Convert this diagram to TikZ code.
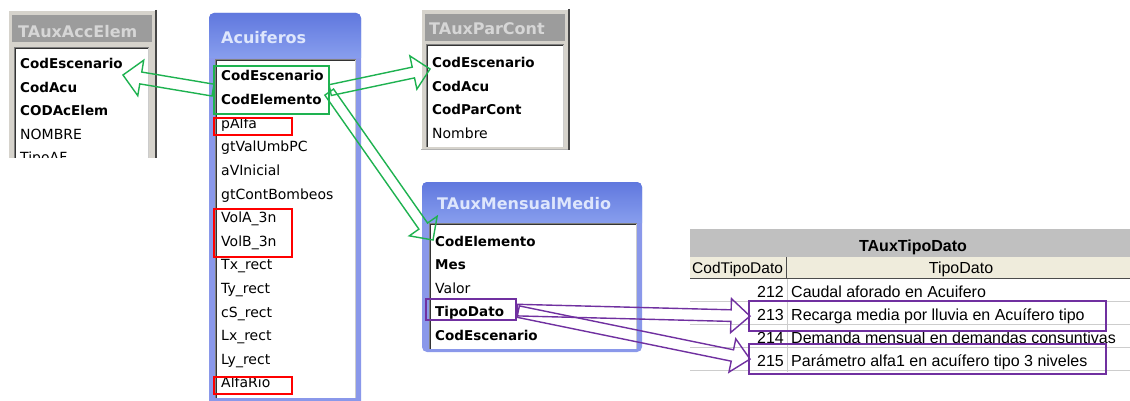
\documentclass[tikz,border=0pt]{standalone}
\usepackage{fontspec}
\usetikzlibrary{calc}
\newfontfamily\accfont{DejaVu Sans}
\newfontfamily\xlfont{Liberation Sans}

\definecolor{winface}{RGB}{214,211,204}
\definecolor{winshadow}{RGB}{70,70,70}
\definecolor{wincaption}{RGB}{156,156,156}
\definecolor{wincaptiontext}{RGB}{214,214,214}
\definecolor{insetgray}{RGB}{128,128,128}
\definecolor{xpbluetop}{RGB}{96,120,222}
\definecolor{xpbluebottom}{RGB}{136,158,238}
\definecolor{xpblueside}{RGB}{138,152,234}
\definecolor{xptitletext}{RGB}{222,230,252}
\definecolor{linkgreen}{RGB}{30,178,80}
\definecolor{linkpurple}{RGB}{112,48,160}
\definecolor{markred}{RGB}{255,0,0}
\definecolor{headgray}{RGB}{192,192,192}
\definecolor{headcream}{RGB}{239,236,220}
\definecolor{gridgray}{RGB}{205,205,205}

% hollow block arrow: style, start, tip, shaft half width, head half width, head length
\newcommand\blockarrow[6]{%
  \coordinate (ba-base) at ($(#3)!#6!(#2)$);
  \draw[#1] ($(#2)!#4!90:(#3)$) -- ($(ba-base)!#4!-90:(#2)$) -- ($(ba-base)!#5!-90:(#2)$)
    -- (#3) -- ($(ba-base)!#5!90:(#2)$) -- ($(ba-base)!#4!90:(#2)$) -- ($(#2)!#4!-90:(#3)$) -- cycle;
}
% sunken white list area with a dark bevel on the top and left
\newcommand\listarea[4]{%
  \fill[white] (#1,#2) rectangle (#3,#4);
  \draw[insetgray,line width=1pt] (#1+0.5,#4) -- (#1+0.5,#2+0.5) -- (#3,#2+0.5);
  \draw[black!80,line width=1pt] (#1+1.5,#4) -- (#1+1.5,#2+1.5) -- (#3-1,#2+1.5);
  \draw[gray!40,line width=1pt] (#3-0.5,#2+1) -- (#3-0.5,#4);
}
% classic grey window frame with its caption bar
\newcommand\classicwin[4]{%
  \fill[winface] (#1,#2) rectangle (#3,#4);
  \draw[white,line width=1pt] (#1+0.5,#4) -- (#1+0.5,#2+0.5) -- (#3-2,#2+0.5);
  \draw[gray!60,line width=1pt] (#1,#4-0.5) -- (#3,#4-0.5);
  \draw[winshadow,line width=2pt] (#3-1,#2) -- (#3-1,#4);
  \fill[wincaption] (#1+4,#2+5) rectangle (#3-5,#2+32);
}
% blue window frame with its shaded caption
\newcommand\bluewin[5]{% x1,y1,x2,y2,caption bottom
  \fill[xpblueside,rounded corners=5pt] (#1,#2) rectangle (#3,#4);
  \shade[top color=xpbluetop,bottom color=xpbluebottom] (#1,#5) {[rounded corners=5pt] -- (#1,#2) -- (#3,#2)} -- (#3,#5) -- cycle;
}

\begin{document}
\begin{tikzpicture}[x=1pt,y=-1pt,line join=miter,
  field/.style={anchor=base west,inner sep=0pt,text=black,font=\accfont\fontsize{14}{16}\selectfont},
  keyfield/.style={field,font=\accfont\bfseries\fontsize{13.5}{16}\selectfont},
  graytitle/.style={anchor=base west,inner sep=0pt,text=wincaptiontext,font=\accfont\bfseries\fontsize{16}{19}\selectfont},
  bluetitle/.style={graytitle,text=xptitletext},
  cell/.style={inner sep=0pt,font=\xlfont\fontsize{16}{19}\selectfont},
  numcell/.style={cell,anchor=base east},
  textcell/.style={cell,anchor=base west},
  hlbox/.style={draw,line width=2.2pt,anchor=north west,inner sep=0pt},
  greenlink/.style={draw=linkgreen,line width=1.4pt},
  purplelink/.style={draw=linkpurple,line width=1.4pt}]

\fill[white] (0,0) rectangle (1130,401);
\useasboundingbox (0,0) rectangle (1130,401);

% ---------- TAuxAccElem ----------
\begin{scope}
  \clip (0,0) rectangle (200,158);
  \classicwin{8}{10}{157}{180}
  \node[graytitle] (accTitle) at (18,38) {TAuxAccElem};
  \listarea{14}{47}{149}{180}
  \node[keyfield] (accEsc) at (20,69) {CodEscenario};
  \node[keyfield] (accAcu) at (20,92.5) {CodAcu};
  \node[keyfield] (accElem) at (20,116) {CODAcElem};
  \node[field] (accNombre) at (20,139.5) {NOMBRE};
  \node[field] (accTipo) at (20,163) {TipoAF};
\end{scope}

% ---------- Acuiferos ----------
\bluewin{209}{13}{361}{410}{58}
\node[bluetitle] (acuTitle) at (221,44) {Acuiferos};
\listarea{215}{59}{356}{398}
\node[keyfield] (acuEsc) at (221,81) {CodEscenario};
\node[keyfield] (acuElem) at (221,104.6) {CodElemento};
\node[field] (acuAlfa) at (221,128.2) {pAlfa};
\node[field] (acuUmb) at (221,151.8) {gtValUmbPC};
\node[field] (acuVIni) at (221,175.4) {aVInicial};
\node[field] (acuBomb) at (221,199) {gtContBombeos};
\node[field] (acuVolA) at (221,222.6) {VolA\_3n};
\node[field] (acuVolB) at (221,246.2) {VolB\_3n};
\node[field] (acuTx) at (221,269.8) {Tx\_rect};
\node[field] (acuTy) at (221,293.4) {Ty\_rect};
\node[field] (acuCs) at (221,317) {cS\_rect};
\node[field] (acuLx) at (221,340.6) {Lx\_rect};
\node[field] (acuLy) at (221,364.2) {Ly\_rect};
\node[field] (acuRio) at (221,387.8) {AlfaRio};

% ---------- TAuxParCont ----------
\classicwin{421}{9}{570}{150}
\node[graytitle] (parTitle) at (429,35) {TAuxParCont};
\listarea{426}{44}{564}{147}
\node[keyfield] (parEsc) at (432,68) {CodEscenario};
\node[keyfield] (parAcu) at (432,91.5) {CodAcu};
\node[keyfield] (parCod) at (432,115) {CodParCont};
\node[field] (parNombre) at (432,138.5) {Nombre};

% ---------- TAuxMensualMedio ----------
\bluewin{422}{182}{642}{352}{223}
\node[bluetitle] (mmTitle) at (437,209) {TAuxMensualMedio};
\listarea{429}{223}{637}{349}
\node[keyfield] (mmElem) at (435,246) {CodElemento};
\node[keyfield] (mmMes) at (435,269.6) {Mes};
\node[field] (mmValor) at (435,293.2) {Valor};
\node[keyfield] (mmTipo) at (435,316.8) {TipoDato};
\node[keyfield] (mmEsc) at (435,340.4) {CodEscenario};

% ---------- TAuxTipoDato sheet ----------
\fill[headgray] (690,229) rectangle (1130,257);
\fill[headcream] (690,257) rectangle (1130,278);
\draw[black!70,line width=1pt] (690,278.5) -- (1130,278.5);
\draw[black!70,line width=1pt] (786.5,257) -- (786.5,278);
\foreach \yy in {301,324,347,370}
  \draw[gridgray,line width=1pt] (690,\yy) -- (1130,\yy);
\draw[gridgray,line width=1pt] (787,279) -- (787,372);
\node[cell,anchor=base,font=\xlfont\bfseries\fontsize{16}{19}\selectfont] (tdTitle) at (913,251) {TAuxTipoDato};
\node[textcell,font=\xlfont\fontsize{15.5}{19}\selectfont] (tdHeadCod) at (692,273) {CodTipoDato};
\node[cell,anchor=base] (tdHeadTipo) at (961,273) {TipoDato};
\node[numcell] (n212) at (784,297) {212};
\node[textcell] (t212) at (791,297) {Caudal aforado en Acuifero};
\node[numcell] (n213) at (784,320) {213};
\node[textcell] (t213) at (791,320) {Recarga media por lluvia en Acuífero tipo};
\node[numcell] (n214) at (784,343) {214};
\node[textcell] (t214) at (791,343) {Demanda mensual en demandas consuntivas};
\node[numcell] (n215) at (784,366) {215};
\node[textcell] (t215) at (791,366) {Parámetro alfa1 en acuífero tipo 3 niveles};

% ---------- highlight frames ----------
\node[hlbox,draw=linkgreen,minimum width=115pt,minimum height=48pt] (grpAcu) at (213,65) {};
\node[hlbox,draw=markred,minimum width=78pt,minimum height=17pt] (redAlfa) at (213,117) {};
\node[hlbox,draw=markred,minimum width=78pt,minimum height=48pt] (redVol) at (213,208) {};
\node[hlbox,draw=markred,minimum width=78pt,minimum height=17pt] (redRio) at (213,376) {};
\node[hlbox,draw=linkpurple,minimum width=90pt,minimum height=21pt] (tdBox) at (425,298) {};
\node[hlbox,draw=linkpurple,minimum width=357pt,minimum height=30pt] (box213) at (748,300) {};
\node[hlbox,draw=linkpurple,minimum width=357pt,minimum height=30pt] (box215) at (748,343) {};

% ---------- links ----------
\coordinate (accTip) at (123,75);
\coordinate (parTip) at (430,69);
\coordinate (mmTip) at (433,240);
\coordinate (elemOut) at ($(grpAcu.east)+(-1,2)$);
\coordinate (tdOut2) at ($(tdBox.east)+(1,2)$);
\coordinate (tdOut1) at ($(tdBox.east)+(0,0.5)$);
\coordinate (tip213) at ($(box213.west)+(2,0)$);
\coordinate (tip215) at ($(box215.west)+(2,0)$);

\blockarrow{greenlink}{grpAcu.west}{accTip}{6pt}{18pt}{18pt}
\blockarrow{greenlink}{grpAcu.east}{parTip}{5.5pt}{17pt}{17pt}
\blockarrow{greenlink}{elemOut}{mmTip}{5.3pt}{17pt}{17pt}
\blockarrow{purplelink}{tdOut1}{tip213}{5.8pt}{17pt}{19pt}
\blockarrow{purplelink}{tdOut2}{tip215}{5.8pt}{17pt}{18pt}
\end{tikzpicture}
\end{document}
